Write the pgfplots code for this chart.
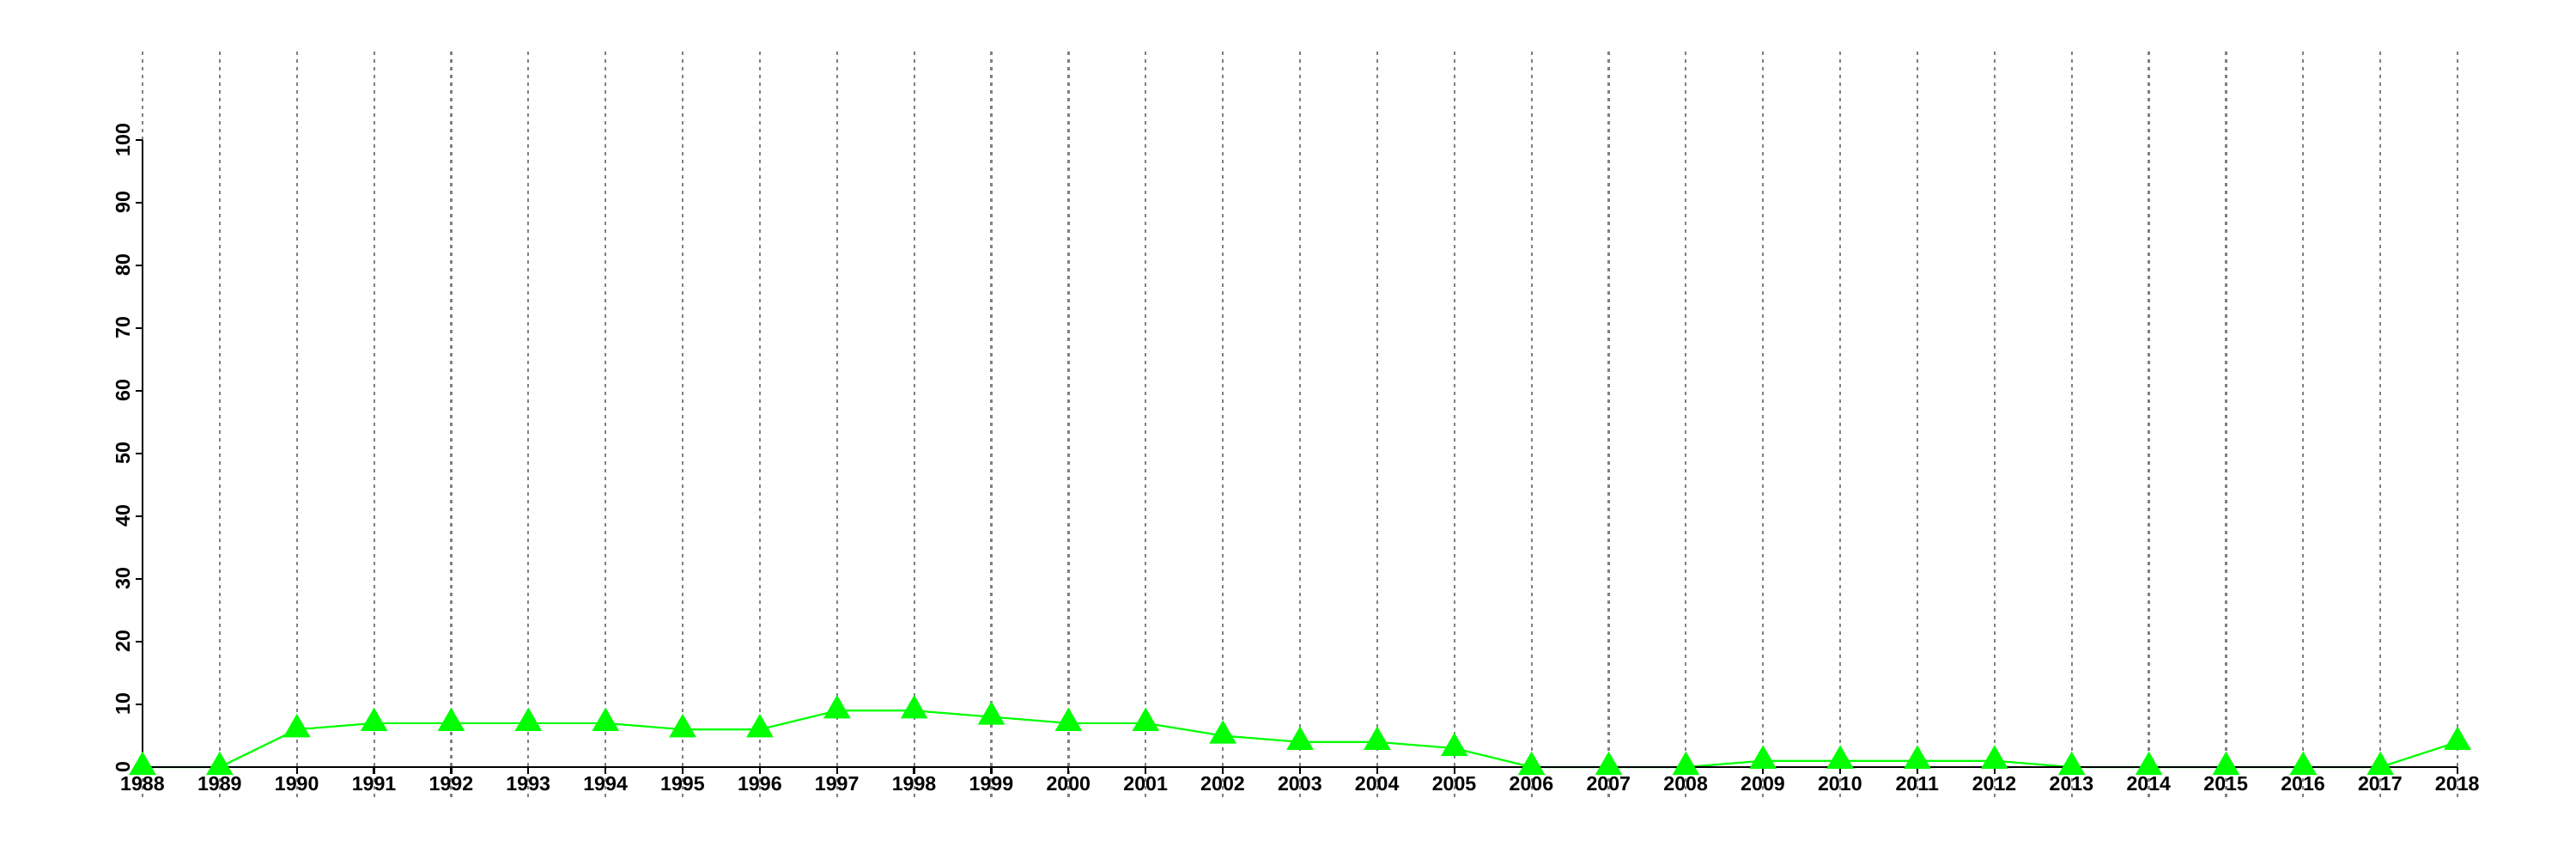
\documentclass[border=0pt]{standalone}
\usepackage{fontspec}
\setmainfont{Liberation Sans}
\usepackage{pgfplots}
\pgfplotsset{compat=1.18}
\definecolor{lgreen}{RGB}{0,255,0}
\definecolor{gridgray}{RGB}{128,128,128}
\begin{document}
\begin{tikzpicture}
\path[use as bounding box] (-16.6mm,-10.7mm) rectangle ++(300mm,100mm);
\begin{axis}[
  scale only axis,
  width=269.6mm, height=73mm,
  xmin=1988, xmax=2018, ymin=0, ymax=100,
  axis x line*=bottom, axis y line*=left,
  axis line style={-, line width=0.22mm, black},
  axis on top,
  clip=false,
  xtick={1988,...,2018},
  ytick={0,10,...,100},
  tick align=outside,
  major tick length=0.8mm,
  tick style={line width=0.22mm, black},
  /pgf/number format/assume math mode=true,
  /pgf/number format/1000 sep={},
  tick label style={font=\bfseries\fontsize{6.6}{7.5}\selectfont},
  x tick label style={anchor=north, inner sep=0.25mm},
  y tick label style={rotate=90, anchor=south, inner sep=0.6mm},
]
\pgfplotsinvokeforeach{1988,...,2018}{
  \draw[gridgray, line width=0.22mm, dash pattern=on 0.4mm off 0.5mm] (axis cs:#1,-4.8) -- (axis cs:#1,114.1);
}
\addplot[color=lgreen, line width=0.22mm, mark=triangle*, mark size=1.6mm, mark options={fill=lgreen, draw=none}]
coordinates {
(1988,0) (1989,0) (1990,6) (1991,7) (1992,7) (1993,7) (1994,7) (1995,6) (1996,6)
(1997,9) (1998,9) (1999,8) (2000,7) (2001,7) (2002,5) (2003,4) (2004,4) (2005,3)
(2006,0) (2007,0) (2008,0) (2009,1) (2010,1) (2011,1) (2012,1) (2013,0) (2014,0)
(2015,0) (2016,0) (2017,0) (2018,4)
};
\end{axis}
\end{tikzpicture}
\end{document}
